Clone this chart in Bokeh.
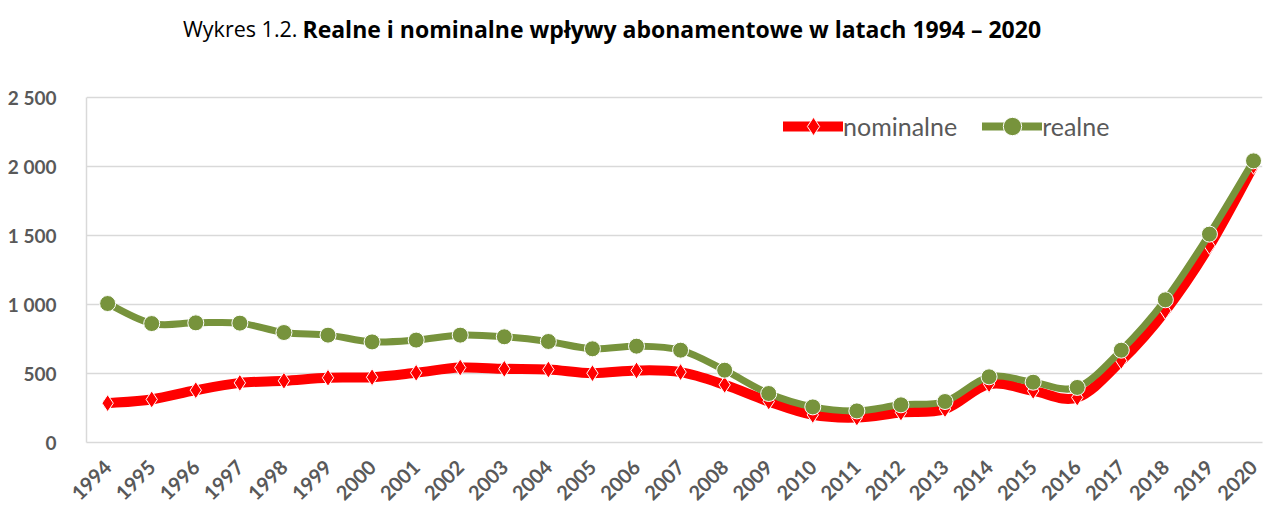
from bokeh.plotting import figure
from bokeh.models import (Range1d, FixedTicker, Label, Legend, LegendItem, ColumnDataSource)
from bokeh.embed import file_html
from bokeh.resources import INLINE
import math

years = list(range(1994, 2021))
nominalne = [285, 312, 379, 432, 447, 469, 473, 505, 543, 534, 529, 502, 522, 510,
             418, 297, 200, 181, 217, 242, 423, 374, 326, 592, 954, 1425, 2005]
realne = [1007, 862, 867, 865, 797, 778, 729, 742, 778, 766, 732, 679, 698, 669,
          524, 355, 258, 229, 273, 297, 476, 437, 399, 669, 1034, 1510, 2041]
y_ticks = [0, 500, 1000, 1500, 2000, 2500]
y_tick_labels = ["0", "500", "1 000", "1 500", "2 000", "2 500"]
title_prefix = "Wykres 1.2."
title_main = "Realne i nominalne wpływy abonamentowe w latach 1994 – 2020"

RED = "#FF0000"
GREEN = "#77933C"
GRAY = "#595959"
FONT = "Lato"
TITLE_FONT = "Open Sans"


def bezier_segments(xs, ys):
    n = len(xs)
    d = dict(x0=[], y0=[], x1=[], y1=[], cx0=[], cy0=[], cx1=[], cy1=[])
    for i in range(n - 1):
        xm, ym = (xs[i - 1], ys[i - 1]) if i > 0 else (xs[i], ys[i])
        xp, yp = (xs[i + 2], ys[i + 2]) if i + 2 < n else (xs[i + 1], ys[i + 1])
        d["x0"].append(xs[i]); d["y0"].append(ys[i])
        d["x1"].append(xs[i + 1]); d["y1"].append(ys[i + 1])
        d["cx0"].append(xs[i] + (xs[i + 1] - xm) / 6.0)
        d["cy0"].append(ys[i] + (ys[i + 1] - ym) / 6.0)
        d["cx1"].append(xs[i + 1] - (xp - xs[i]) / 6.0)
        d["cy1"].append(ys[i + 1] - (yp - ys[i]) / 6.0)
    return ColumnDataSource(d)


p = figure(width=1264, height=509, output_backend="svg", toolbar_location=None,
           x_range=Range1d(1993.52, 2020.204), y_range=Range1d(0, 3203),
           min_border_left=86, min_border_right=2, min_border_top=0,
           min_border_bottom=67)
p.outline_line_color = None
p.background_fill_color = "white"
p.border_fill_color = "white"

# grid
p.xgrid.grid_line_color = None
p.ygrid.grid_line_color = "#D9D9D9"
p.ygrid.grid_line_width = 1.5
p.ygrid.ticker = FixedTicker(ticks=y_ticks)

# axes
p.yaxis.ticker = FixedTicker(ticks=y_ticks)
p.yaxis.bounds = (y_ticks[0], y_ticks[-1])
p.yaxis.major_label_overrides = {t: l for t, l in zip(y_ticks, y_tick_labels)}
p.yaxis.axis_line_color = "#D9D9D9"
p.yaxis.axis_line_width = 1.5
p.yaxis.major_tick_line_color = None
p.yaxis.minor_tick_line_color = None
p.yaxis.major_label_standoff = 24
p.yaxis.major_label_text_font = FONT
p.yaxis.major_label_text_font_style = "bold"
p.yaxis.major_label_text_font_size = "19px"
p.yaxis.major_label_text_color = GRAY

p.xaxis.ticker = FixedTicker(ticks=years)
p.xaxis.major_label_overrides = {y: str(y) for y in years}
p.xaxis.axis_line_color = "#D9D9D9"
p.xaxis.axis_line_width = 1.5
p.xaxis.major_tick_line_color = None
p.xaxis.minor_tick_line_color = None
p.xaxis.major_label_orientation = math.pi / 4
p.xaxis.major_label_standoff = 15
p.xaxis.major_label_text_font = FONT
p.xaxis.major_label_text_font_style = "bold"
p.xaxis.major_label_text_font_size = "20px"
p.xaxis.major_label_text_color = GRAY

# series
p.bezier(x0="x0", y0="y0", x1="x1", y1="y1", cx0="cx0", cy0="cy0", cx1="cx1", cy1="cy1",
         source=bezier_segments(years, nominalne), line_color=RED, line_width=10,
         line_cap="round")
r_nom = p.scatter(years, nominalne, marker="diamond", size=17, fill_color=RED,
                  line_color="white", line_width=1)
p.bezier(x0="x0", y0="y0", x1="x1", y1="y1", cx0="cx0", cy0="cy0", cx1="cx1", cy1="cy1",
         source=bezier_segments(years, realne), line_color=GREEN, line_width=7,
         line_cap="round")
r_real = p.scatter(years, realne, marker="circle", size=16, fill_color=GREEN,
                   line_color="white", line_width=1)

# legend sample lines (no visible data)
l_nom = p.line([float("nan")], [float("nan")], line_color=RED, line_width=10,
               line_cap="round")
l_real = p.line([float("nan")], [float("nan")], line_color=GREEN, line_width=8,
                line_cap="round")

legend = Legend(items=[LegendItem(label="nominalne", renderers=[l_nom, r_nom]),
                       LegendItem(label="realne", renderers=[l_real, r_real])],
                location=(697, 293), orientation="horizontal",
                glyph_width=60, glyph_height=46, label_height=46,
                label_standoff=0, spacing=25, padding=0, margin=0,
                border_line_color=None, background_fill_alpha=0,
                label_text_font=FONT, label_text_font_size="25px",
                label_text_color=GRAY)
p.add_layout(legend, "center")

# title
p.add_layout(Label(x=1998.307, y=3000, text=title_prefix, text_align="right",
                   text_baseline="middle", text_font=TITLE_FONT, text_font_size="21.5px",
                   text_color="black"))
p.add_layout(Label(x=1998.42, y=3000, text=title_main, text_align="left",
                   text_baseline="middle", text_font=TITLE_FONT, text_font_size="23px",
                   text_font_style="bold", text_color="black"))

open("out.html", "w").write(file_html(p, INLINE))
